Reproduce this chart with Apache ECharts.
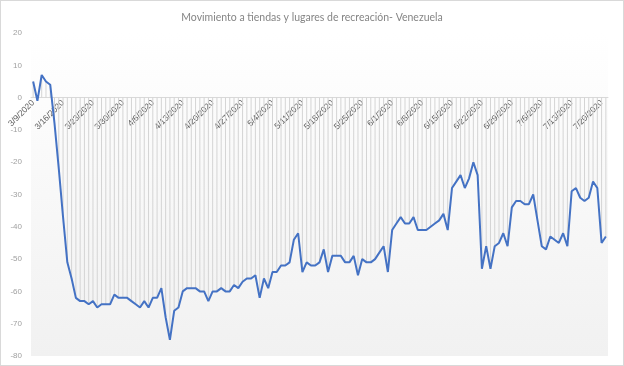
<!DOCTYPE html>
<html>
<head>
<meta charset="utf-8">
<script src="https://cdn.jsdelivr.net/npm/echarts@6/dist/echarts.min.js"></script>
<style>
html,body{margin:0;padding:0;background:#fff;}
#c{width:622px;height:364px;border:1px solid #d9d9d9;}
</style>
</head>
<body>
<div id="c"></div>
<script>
var title = 'Movimiento a tiendas y lugares de recreación- Venezuela';
var startDate = [2020, 3, 9];
var values = [
  5, -1, 7, 5, 4, -8, -22, -37, -51, -56,
  -62, -63, -63, -64, -63, -65, -64, -64, -64, -61,
  -62, -62, -62, -63, -64, -65, -63, -65, -62, -62,
  -59, -68, -75, -66, -65, -60, -59, -59, -59, -60,
  -60, -63, -60, -60, -59, -60, -60, -58, -59, -57,
  -56, -56, -55, -62, -56, -59, -54, -54, -52, -52,
  -51, -44, -42, -54, -51, -52, -52, -51, -47, -54,
  -49, -49, -49, -51, -51, -49, -55, -50, -51, -51,
  -50, -48, -46, -54, -41, -39, -37, -39, -39, -37,
  -41, -41, -41, -40, -39, -38, -36, -41, -28, -26,
  -24, -28, -25, -20, -24, -53, -46, -53, -46, -45,
  -42, -46, -34, -32, -32, -33, -33, -30, -38, -46,
  -47, -43, -44, -45, -42, -46, -29, -28, -31, -32,
  -31, -26, -28, -45, -43
];
var yMin = -80, yMax = 20, yStep = 10;

var categories = [];
(function(){
  var d = new Date(startDate[0], startDate[1]-1, startDate[2]);
  for (var i = 0; i < values.length; i++) {
    categories.push((d.getMonth()+1) + '/' + d.getDate() + '/' + d.getFullYear());
    d.setDate(d.getDate()+1);
  }
})();

var W = 622, H = 364;
var gTop = 32, gBottom = 9, gLeft = 30, gRight = 15;
var plotH = H - gTop - gBottom;
var zeroY = gTop + plotH * (yMax - 0) / (yMax - yMin);

var chart = echarts.init(document.getElementById('c'), null, {renderer:'canvas'});
chart.setOption({
  animation: false,
  title: {
    text: title, left: 'center', top: 6,
    textStyle: {fontFamily: 'Lato', fontSize: 10.5, fontWeight: 'normal', color: '#858585'}
  },
  grid: [
    {
      left: gLeft, right: gRight, top: gTop, bottom: gBottom, show: true, borderWidth: 0,
      backgroundColor: new echarts.graphic.LinearGradient(0,0,0,1,[{offset:0,color:'#ffffff'},{offset:1,color:'#f1f1f1'}])
    },
    {left: gLeft, right: gRight, top: gTop, bottom: H - zeroY}
  ],
  xAxis: [
    {
      type: 'category', data: categories, boundaryGap: true, gridIndex: 0,
      axisLine: {onZero: true, lineStyle: {color: '#d9d9d9'}},
      axisTick: {show: false},
      axisLabel: {show: false}
    },
    {
      type: 'category', data: categories, boundaryGap: true, gridIndex: 1, position: 'bottom',
      axisLine: {show: false}, axisTick: {show: false}, splitLine: {show: false},
      axisLabel: {interval: 6, rotate: 45, margin: 4, fontSize: 8.5, color: '#595959', fontFamily: 'Liberation Sans'}
    }
  ],
  yAxis: [
    {
      type: 'value', min: yMin, max: yMax, interval: yStep, gridIndex: 0,
      axisLine: {show: false}, axisTick: {show: false}, splitLine: {show: false},
      axisLabel: {fontSize: 8, color: '#a0a0a0', margin: 9, fontFamily: 'Liberation Sans'}
    },
    {
      type: 'value', gridIndex: 1, show: false
    }
  ],
  series: [
    {type: 'bar', data: values, barWidth: 1, itemStyle: {color: '#d4d4d4'}, silent: true, z: 1},
    {type: 'line', data: values, symbol: 'none', lineStyle: {color: '#4472c4', width: 2}, z: 3}
  ]
});
</script>
</body>
</html>
